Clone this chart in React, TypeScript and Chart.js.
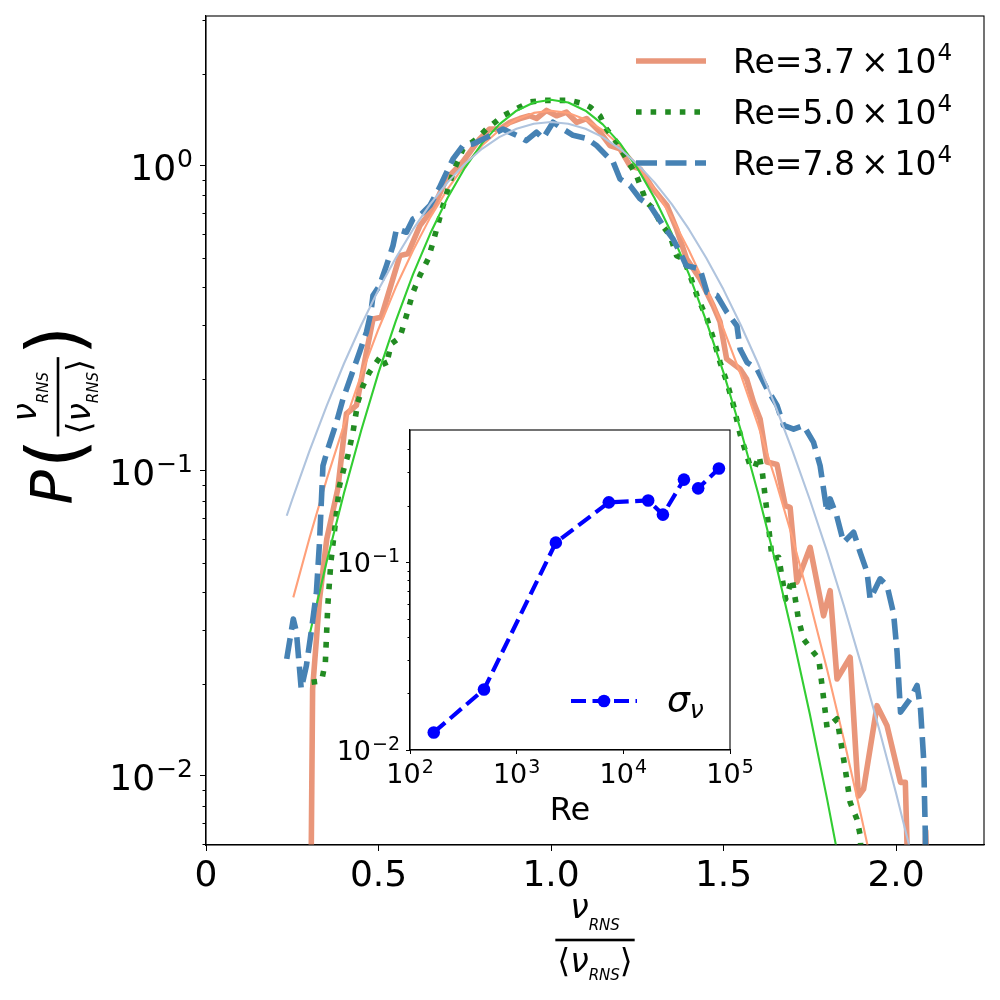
import React, { useEffect, useRef } from "react";
import { Chart, registerables } from "chart.js";

Chart.register(...registerables);

const FONT = "'DejaVu Sans', 'Liberation Sans', sans-serif";

// ---------------- main axes ----------------
const xLimits = [0, 2.255];
const yLimits = [0.00594, 3.1];
const xTickValues = [0, 0.5, 1.0, 1.5, 2.0];
const xTickLabels = ["0", "0.5", "1.0", "1.5", "2.0"];
const yMajorValues = [0.01, 0.1, 1];
const yMajorExp = ["−2", "−1", "0"];
const yMinorValues = [0.006, 0.007, 0.008, 0.009, 0.02, 0.03, 0.04, 0.05, 0.06, 0.07, 0.08, 0.09, 0.2, 0.3, 0.4, 0.5, 0.6, 0.7, 0.8, 0.9, 2, 3];

// legend: "Re=" mantissa, "× 10", exponent
const legendMantissa = ["3.7", "5.0", "7.8"];
const legendExponent = ["4", "4", "4"];

// Re = 3.7e4 (measured PDF)
const re37X = [0.303, 0.309, 0.329, 0.350, 0.382, 0.407, 0.436, 0.465, 0.484, 0.508, 0.562, 0.585, 0.620, 0.657, 0.697, 0.744, 0.793, 0.822, 0.852, 0.881, 0.910, 0.938, 0.958, 0.987, 1.016, 1.045, 1.074, 1.103, 1.142, 1.171, 1.200, 1.229, 1.258, 1.296, 1.336, 1.364, 1.393, 1.432, 1.470, 1.490, 1.509, 1.548, 1.567, 1.587, 1.606, 1.626, 1.655, 1.679, 1.693, 1.713, 1.751, 1.790, 1.809, 1.829, 1.867, 1.891, 1.906, 1.945, 1.974, 2.013, 2.027, 2.036, 2.080, 2.086, 2.092];
const re37Y = [0.003, 0.0193, 0.038, 0.0598, 0.0873, 0.154, 0.164, 0.245, 0.315, 0.319, 0.508, 0.515, 0.637, 0.723, 0.906, 1.03, 1.226, 1.32, 1.32, 1.39, 1.43, 1.46, 1.43, 1.52, 1.46, 1.50, 1.39, 1.43, 1.29, 1.166, 1.137, 1.0, 0.978, 0.841, 0.741, 0.621, 0.496, 0.426, 0.348, 0.308, 0.233, 0.216, 0.200, 0.168, 0.148, 0.107, 0.105, 0.0769, 0.076, 0.0432, 0.0562, 0.0335, 0.0405, 0.0208, 0.0245, 0.0086, 0.00906, 0.017, 0.0146, 0.00953, 0.00953, 0.004, 0.004, 0.0066, 0.004];

// Re = 5.0e4 (measured PDF)
const re50X = [0.306, 0.335, 0.346, 0.353, 0.362, 0.372, 0.387, 0.402, 0.411, 0.426, 0.440, 0.455, 0.474, 0.508, 0.522, 0.537, 0.562, 0.581, 0.600, 0.620, 0.644, 0.658, 0.687, 0.716, 0.745, 0.784, 0.813, 0.861, 0.900, 0.938, 0.977, 1.016, 1.055, 1.093, 1.113, 1.142, 1.161, 1.190, 1.219, 1.248, 1.277, 1.297, 1.316, 1.345, 1.364, 1.384, 1.403, 1.423, 1.452, 1.471, 1.490, 1.510, 1.529, 1.548, 1.577, 1.590, 1.603, 1.612, 1.626, 1.641, 1.660, 1.680, 1.699, 1.717, 1.732, 1.760, 1.776, 1.795, 1.800, 1.829, 1.853, 1.867, 1.887, 1.896, 1.905];
const re50Y = [0.0203, 0.0205, 0.0236, 0.0362, 0.0503, 0.063, 0.0895, 0.104, 0.112, 0.134, 0.168, 0.190, 0.211, 0.239, 0.221, 0.261, 0.274, 0.323, 0.385, 0.437, 0.496, 0.562, 0.74, 0.953, 1.137, 1.226, 1.32, 1.46, 1.54, 1.62, 1.64, 1.64, 1.64, 1.60, 1.56, 1.46, 1.32, 1.196, 1.054, 0.929, 0.76, 0.723, 0.653, 0.591, 0.508, 0.496, 0.437, 0.376, 0.315, 0.271, 0.227, 0.195, 0.164, 0.132, 0.104, 0.102, 0.112, 0.100, 0.0732, 0.0514, 0.0521, 0.038, 0.0443, 0.0327, 0.0281, 0.0255, 0.0242, 0.0162, 0.0144, 0.0154, 0.0105, 0.0082, 0.0072, 0.0064, 0.004];

// Re = 7.8e4 (measured PDF)
const re78X = [0.234, 0.253, 0.262, 0.276, 0.291, 0.305, 0.320, 0.329, 0.339, 0.353, 0.378, 0.397, 0.445, 0.465, 0.478, 0.484, 0.503, 0.523, 0.542, 0.552, 0.581, 0.600, 0.620, 0.649, 0.677, 0.702, 0.716, 0.745, 0.774, 0.813, 0.861, 0.900, 0.928, 0.958, 0.977, 1.006, 1.035, 1.064, 1.103, 1.132, 1.161, 1.180, 1.200, 1.229, 1.258, 1.287, 1.306, 1.325, 1.354, 1.383, 1.392, 1.432, 1.452, 1.481, 1.510, 1.539, 1.548, 1.568, 1.597, 1.626, 1.655, 1.674, 1.703, 1.732, 1.761, 1.780, 1.800, 1.809, 1.828, 1.848, 1.877, 1.896, 1.916, 1.925, 1.954, 1.974, 1.993, 2.003, 2.013, 2.041, 2.061, 2.071, 2.080, 2.085, 2.087];
const re78Y = [0.0242, 0.0327, 0.0297, 0.0193, 0.023, 0.0297, 0.040, 0.0583, 0.104, 0.118, 0.144, 0.172, 0.245, 0.285, 0.331, 0.376, 0.405, 0.471, 0.548, 0.621, 0.606, 0.670, 0.687, 0.741, 0.85, 0.978, 1.054, 1.166, 1.18, 1.24, 1.32, 1.26, 1.21, 1.29, 1.23, 1.39, 1.32, 1.26, 1.23, 1.166, 1.08, 1.03, 0.906, 0.862, 0.78, 0.741, 0.687, 0.637, 0.575, 0.496, 0.471, 0.459, 0.385, 0.376, 0.331, 0.299, 0.251, 0.227, 0.216, 0.186, 0.164, 0.141, 0.137, 0.141, 0.124, 0.104, 0.0732, 0.081, 0.0713, 0.0583, 0.063, 0.0541, 0.0466, 0.038, 0.0443, 0.0421, 0.034, 0.0255, 0.0162, 0.0179, 0.0198, 0.0166, 0.0114, 0.0064, 0.004];

// fitted curves
const fit37X = [0.253, 0.30, 0.35, 0.40, 0.45, 0.50, 0.55, 0.60, 0.65, 0.70, 0.75, 0.80, 0.85, 0.90, 0.95, 1.00, 1.05, 1.10, 1.15, 1.20, 1.25, 1.30, 1.35, 1.40, 1.45, 1.50, 1.55, 1.60, 1.65, 1.70, 1.75, 1.80, 1.85, 1.90, 1.95];
const fit37Y = [0.0385, 0.0603, 0.0940, 0.1416, 0.207, 0.292, 0.400, 0.528, 0.678, 0.839, 1.005, 1.166, 1.309, 1.419, 1.492, 1.517, 1.492, 1.419, 1.309, 1.166, 1.005, 0.839, 0.678, 0.528, 0.400, 0.292, 0.207, 0.1416, 0.0940, 0.0603, 0.0373, 0.0224, 0.0130, 0.00731, 0.0040];

const fit50X = [0.30, 0.35, 0.40, 0.45, 0.50, 0.55, 0.60, 0.65, 0.70, 0.75, 0.80, 0.85, 0.90, 0.95, 1.00, 1.05, 1.10, 1.15, 1.20, 1.25, 1.30, 1.35, 1.40, 1.45, 1.50, 1.55, 1.60, 1.65, 1.70, 1.75, 1.80, 1.85];
const fit50Y = [0.0290, 0.0506, 0.0847, 0.136, 0.210, 0.310, 0.441, 0.600, 0.785, 0.984, 1.185, 1.368, 1.517, 1.614, 1.648, 1.614, 1.517, 1.368, 1.185, 0.984, 0.785, 0.600, 0.441, 0.310, 0.210, 0.136, 0.0847, 0.0506, 0.0290, 0.0160, 0.00843, 0.00427];

const fit78X = [0.234, 0.25, 0.30, 0.35, 0.40, 0.45, 0.50, 0.55, 0.60, 0.65, 0.70, 0.75, 0.80, 0.85, 0.90, 0.95, 1.00, 1.05, 1.10, 1.15, 1.20, 1.25, 1.30, 1.35, 1.40, 1.45, 1.50, 1.55, 1.60, 1.65, 1.70, 1.75, 1.80, 1.85, 1.90, 1.95, 2.00, 2.05, 2.07];
const fit78Y = [0.0713, 0.0806, 0.1164, 0.1638, 0.225, 0.301, 0.393, 0.499, 0.619, 0.749, 0.883, 1.015, 1.138, 1.243, 1.324, 1.375, 1.393, 1.375, 1.324, 1.243, 1.138, 1.015, 0.883, 0.749, 0.619, 0.499, 0.393, 0.301, 0.225, 0.1638, 0.1164, 0.0806, 0.0545, 0.0358, 0.0230, 0.0144, 0.00879, 0.00523, 0.00422];

// ---------------- inset ----------------
const insetRe = [167, 494, 2330, 7310, 17100, 23500, 37000, 50300, 78700];
const insetSigma = [0.0124, 0.0210, 0.127, 0.208, 0.213, 0.179, 0.275, 0.247, 0.315];
const insetXLimits = [100, 100000];
const insetYLimits = [0.01, 0.505];
const insetXTickValues = [100, 1000, 10000, 100000];
const insetXTickExp = ["2", "3", "4", "5"];
const insetYMajorValues = [0.01, 0.1];
const insetYMajorExp = ["−2", "−1"];
const insetYMinorValues = [0.02, 0.03, 0.04, 0.05, 0.06, 0.07, 0.08, 0.09, 0.2, 0.3, 0.4];
const insetXTitle = "Re";
const insetLegend = ["σ", "ν"];

// ---------------- helpers ----------------
const pts = (xs: number[], ys: number[]) => xs.map((x, i) => ({ x, y: ys[i] }));
const it = (s: number) => `italic ${s}px ${FONT}`;
const up = (s: number) => `${s}px ${FONT}`;

type Run = { t: string; f: string; dy: number };
function runsWidth(ctx: CanvasRenderingContext2D, runs: Run[]) {
  let w = 0;
  for (const r of runs) { ctx.font = r.f; w += ctx.measureText(r.t).width; }
  return w;
}
function drawRuns(ctx: CanvasRenderingContext2D, runs: Run[], x: number, y: number) {
  let cx = x;
  for (const r of runs) { ctx.font = r.f; ctx.fillText(r.t, cx, y + r.dy); cx += ctx.measureText(r.t).width; }
}
function fracRuns(nu: number, sub: number) {
  const num: Run[] = [{ t: "ν", f: it(nu), dy: 0 }, { t: "RNS", f: it(sub), dy: 12 * nu / 33 }];
  const den: Run[] = [{ t: "⟨", f: up(nu), dy: 0 }, { t: "ν", f: it(nu), dy: 0 }, { t: "RNS", f: it(sub), dy: 8 * nu / 33 }, { t: "⟩", f: up(nu), dy: 0 }];
  return { num, den };
}
function fractionWidth(ctx: CanvasRenderingContext2D, nu: number, sub: number) {
  const { num, den } = fracRuns(nu, sub);
  return Math.max(runsWidth(ctx, num), runsWidth(ctx, den)) + 4;
}
function drawFraction(ctx: CanvasRenderingContext2D, cx: number, barY: number, nu: number, sub: number) {
  const { num, den } = fracRuns(nu, sub);
  const wn = runsWidth(ctx, num), wd = runsWidth(ctx, den);
  const L = Math.max(wn, wd) + 4;
  drawRuns(ctx, num, cx - wn / 2, barY - 22 * nu / 33);
  drawRuns(ctx, den, cx - wd / 2, barY + 32 * nu / 33);
  ctx.fillRect(cx - L / 2, barY - 1.3, L, 2.6);
}
// power-of-ten label "10^e" drawn as base + raised exponent
function drawPow(ctx: CanvasRenderingContext2D, exp: string, x: number, base: number, align: string, size: number) {
  const sup = Math.round(size * 0.7);
  const runs: Run[] = [{ t: "10", f: up(size), dy: 0 }, { t: exp, f: up(sup), dy: -size * 0.36 }];
  const w = runsWidth(ctx, runs) + 1;
  const x0 = align === "right" ? x - w : align === "center" ? x - w / 2 : x;
  ctx.font = up(size);
  ctx.fillText("10", x0, base);
  const w10 = ctx.measureText("10").width + 1;
  ctx.font = up(sup);
  ctx.fillText(exp, x0 + w10, base - size * 0.36);
}

function drawMinorTicks(chart: any, values: number[], len: number) {
  const { ctx, chartArea } = chart;
  const ys = chart.scales.y;
  ctx.save();
  ctx.strokeStyle = "#000";
  ctx.lineWidth = 1;
  for (const v of values) {
    const y = Math.round(ys.getPixelForValue(v)) + 0.5;
    ctx.beginPath();
    ctx.moveTo(chartArea.left - len, y);
    ctx.lineTo(chartArea.left, y);
    ctx.stroke();
  }
  ctx.restore();
}

const mainPlugin = {
  id: "mainDecor",
  afterDatasetsDraw(chart: any) {
    const { ctx, chartArea: a } = chart;
    ctx.save();
    ctx.strokeStyle = "#000";
    ctx.lineWidth = 1.1;
    ctx.strokeRect(a.left, a.top, a.right - a.left, a.bottom - a.top);
    ctx.restore();
    drawMinorTicks(chart, yMinorValues, 3.5);
  },
  afterDraw(chart: any) {
    const { ctx, chartArea: a } = chart;
    ctx.save();
    ctx.fillStyle = "#000";
    ctx.textAlign = "left";
    ctx.textBaseline = "alphabetic";

    // y tick labels (powers of ten)
    const ys = chart.scales.y;
    yMajorValues.forEach((v, i) => {
      const y = ys.getPixelForValue(v);
      drawPow(ctx, yMajorExp[i], a.left - 13, y + 14, "right", 36);
    });

    // legend
    const styles = [
      { color: "#e9967a", dash: [] as number[] },
      { color: "#228b22", dash: [5.6, 9] },
      { color: "#4682b4", dash: [21, 8.5] },
    ];
    legendMantissa.forEach((m, i) => {
      const y = a.top + 45 + i * 51;
      ctx.save();
      ctx.strokeStyle = styles[i].color;
      ctx.lineWidth = 5.6;
      ctx.lineCap = "butt";
      ctx.setLineDash(styles[i].dash);
      ctx.beginPath();
      ctx.moveTo(636, y);
      ctx.lineTo(706, y);
      ctx.stroke();
      ctx.restore();
      const base = y + 12;
      ctx.fillStyle = "#000";
      ctx.font = up(33);
      const head = "Re=" + m;
      ctx.fillText(head, 733, base);
      let x = 733 + ctx.measureText(head).width + 6;
      ctx.fillText("×", x, base);
      x += ctx.measureText("×").width + 6;
      ctx.fillText("10", x, base);
      x += ctx.measureText("10").width + 1;
      ctx.font = up(23);
      ctx.fillText(legendExponent[i], x, base - 13);
    });

    // x label
    const cx = (a.left + a.right) / 2;
    drawFraction(ctx, cx, 940, 33, 15);

    // y label (rotated)
    ctx.save();
    ctx.translate(72, 415);
    ctx.rotate(-Math.PI / 2);
    ctx.font = it(57);
    const pW = ctx.measureText("P").width;
    ctx.font = up(76);
    const parW = ctx.measureText("(").width;
    const fL = fractionWidth(ctx, 33, 15);
    const total = pW + 2 + parW + 2 + fL + 2 + parW;
    let u = -total / 2;
    ctx.font = it(57);
    ctx.fillText("P", u, 0);
    u += pW + 2;
    ctx.font = up(76);
    ctx.fillText("(", u, 9);
    u += parW + 2;
    drawFraction(ctx, u + fL / 2, -14, 33, 15);
    u += fL + 2;
    ctx.font = up(76);
    ctx.fillText(")", u, 9);
    ctx.restore();

    ctx.restore();
  },
};

const insetPlugin = {
  id: "insetDecor",
  beforeDraw(chart: any) {
    const { ctx, chartArea: a } = chart;
    ctx.save();
    ctx.fillStyle = "#fff";
    ctx.fillRect(a.left, a.top, a.right - a.left, a.bottom - a.top);
    ctx.restore();
  },
  afterDatasetsDraw(chart: any) {
    const { ctx, chartArea: a } = chart;
    ctx.save();
    ctx.strokeStyle = "#000";
    ctx.lineWidth = 1.1;
    ctx.strokeRect(a.left, a.top, a.right - a.left, a.bottom - a.top);
    ctx.restore();
    drawMinorTicks(chart, insetYMinorValues, 2.5);
  },
  afterDraw(chart: any) {
    const { ctx, chartArea: a } = chart;
    ctx.save();
    ctx.fillStyle = "#000";
    ctx.textBaseline = "alphabetic";
    ctx.textAlign = "left";
    // tick labels
    const xs = chart.scales.x, ys = chart.scales.y;
    insetXTickValues.forEach((v, i) => {
      drawPow(ctx, insetXTickExp[i], xs.getPixelForValue(v), a.bottom + 33, "center", 27);
    });
    insetYMajorValues.forEach((v, i) => {
      drawPow(ctx, insetYMajorExp[i], a.left - 10, ys.getPixelForValue(v) + 10, "right", 27);
    });
    // x title
    ctx.font = up(32);
    ctx.textAlign = "center";
    ctx.fillText(insetXTitle, (a.left + a.right) / 2, 400);
    // legend
    ctx.textAlign = "left";
    const ly = 281;
    ctx.save();
    ctx.strokeStyle = "#0000ff";
    ctx.lineWidth = 4.2;
    ctx.setLineDash([15, 6.5]);
    ctx.beginPath();
    ctx.moveTo(251, ly);
    ctx.lineTo(317, ly);
    ctx.stroke();
    ctx.setLineDash([]);
    ctx.fillStyle = "#0000ff";
    ctx.beginPath();
    ctx.arc(284, ly, 6.3, 0, Math.PI * 2);
    ctx.fill();
    ctx.restore();
    ctx.font = it(36);
    ctx.fillText(insetLegend[0], 347, 292);
    const ws = ctx.measureText(insetLegend[0]).width;
    ctx.font = it(25);
    ctx.fillText(insetLegend[1], 347 + ws, 298);
    ctx.restore();
  },
};

const lineBase = { pointRadius: 0, fill: false, tension: 0, clip: 0, borderJoinStyle: "round" as const };
const axisLine = { display: true, color: "#000", width: 1.1 };

function mainConfig(): any {
  return {
    type: "line",
    data: {
      datasets: [
        { ...lineBase, data: pts(fit78X, fit78Y), borderColor: "#b0c4de", borderWidth: 2.1 },
        { ...lineBase, data: pts(re78X, re78Y), borderColor: "#4682b4", borderWidth: 5.6, borderDash: [21, 8.5], borderCapStyle: "butt" },
        { ...lineBase, data: pts(fit50X, fit50Y), borderColor: "#32cd32", borderWidth: 2.1 },
        { ...lineBase, data: pts(re50X, re50Y), borderColor: "#228b22", borderWidth: 5.6, borderDash: [5.6, 9], borderCapStyle: "butt" },
        { ...lineBase, data: pts(fit37X, fit37Y), borderColor: "#ffa07a", borderWidth: 2.1 },
        { ...lineBase, data: pts(re37X, re37Y), borderColor: "#e9967a", borderWidth: 5.6, borderCapStyle: "butt" },
      ],
    },
    options: {
      animation: false,
      responsive: false,
      devicePixelRatio: 1,
      layout: { padding: { top: 16, right: 16, left: 0, bottom: 0 } },
      plugins: { legend: { display: false }, tooltip: { enabled: false } },
      scales: {
        x: {
          type: "linear",
          min: xLimits[0],
          max: xLimits[1],
          afterBuildTicks: (s: any) => { s.ticks = xTickValues.map((v) => ({ value: v })); },
          afterFit: (s: any) => { s.height = 155; s.paddingLeft = 0; s.paddingRight = 0; },
          ticks: {
            autoSkip: false,
            maxRotation: 0,
            padding: 4,
            color: "#000",
            font: { family: FONT, size: 36 },
            callback: (v: number) => { const i = xTickValues.indexOf(v); return i >= 0 ? xTickLabels[i] : ""; },
          },
          grid: { display: true, drawOnChartArea: false, drawTicks: true, tickLength: 6, color: "#000", tickColor: "#000" },
          border: axisLine,
        },
        y: {
          type: "logarithmic",
          min: yLimits[0],
          max: yLimits[1],
          afterBuildTicks: (s: any) => { s.ticks = yMajorValues.map((v) => ({ value: v, major: true })); },
          afterFit: (s: any) => { s.width = 206; s.paddingTop = 0; s.paddingBottom = 0; },
          ticks: { display: false },
          grid: { display: true, drawOnChartArea: false, drawTicks: true, tickLength: 6, color: "#000", tickColor: "#000" },
          border: axisLine,
        },
      },
    },
    plugins: [mainPlugin],
  };
}

function insetConfig(): any {
  return {
    type: "line",
    data: {
      datasets: [
        {
          data: pts(insetRe, insetSigma),
          borderColor: "#0000ff",
          backgroundColor: "#0000ff",
          borderWidth: 4.2,
          borderDash: [15, 6.5],
          borderCapStyle: "butt",
          pointRadius: 6.3,
          pointBackgroundColor: "#0000ff",
          pointBorderWidth: 0,
          tension: 0,
          fill: false,
          clip: false,
        },
      ],
    },
    options: {
      animation: false,
      responsive: false,
      devicePixelRatio: 1,
      layout: { padding: { top: 10, right: 40, left: 0, bottom: 0 } },
      plugins: { legend: { display: false }, tooltip: { enabled: false } },
      scales: {
        x: {
          type: "logarithmic",
          min: insetXLimits[0],
          max: insetXLimits[1],
          afterBuildTicks: (s: any) => { s.ticks = insetXTickValues.map((v) => ({ value: v, major: true })); },
          afterFit: (s: any) => { s.height = 100; s.paddingLeft = 0; s.paddingRight = 0; },
          ticks: { display: false },
          grid: { display: true, drawOnChartArea: false, drawTicks: true, tickLength: 4, color: "#000", tickColor: "#000" },
          border: axisLine,
        },
        y: {
          type: "logarithmic",
          min: insetYLimits[0],
          max: insetYLimits[1],
          afterBuildTicks: (s: any) => { s.ticks = insetYMajorValues.map((v) => ({ value: v, major: true })); },
          afterFit: (s: any) => { s.width = 90; s.paddingTop = 0; s.paddingBottom = 0; },
          ticks: { display: false },
          grid: { display: true, drawOnChartArea: false, drawTicks: true, tickLength: 4, color: "#000", tickColor: "#000" },
          border: axisLine,
        },
      },
    },
    plugins: [insetPlugin],
  };
}

export default function App() {
  const mainRef = useRef<HTMLCanvasElement>(null);
  const insetRef = useRef<HTMLCanvasElement>(null);
  useEffect(() => {
    const main = new Chart(mainRef.current as HTMLCanvasElement, mainConfig());
    const inset = new Chart(insetRef.current as HTMLCanvasElement, insetConfig());
    return () => { main.destroy(); inset.destroy(); };
  }, []);
  return (
    <div style={{ position: "absolute", left: 0, top: 0, width: 1000, height: 1000, background: "#fff" }}>
      <canvas ref={mainRef} width={1000} height={1000} style={{ position: "absolute", left: 0, top: 0, width: 1000, height: 1000 }} />
      <canvas ref={insetRef} width={450} height={430} style={{ position: "absolute", left: 320, top: 420, width: 450, height: 430 }} />
    </div>
  );
}
